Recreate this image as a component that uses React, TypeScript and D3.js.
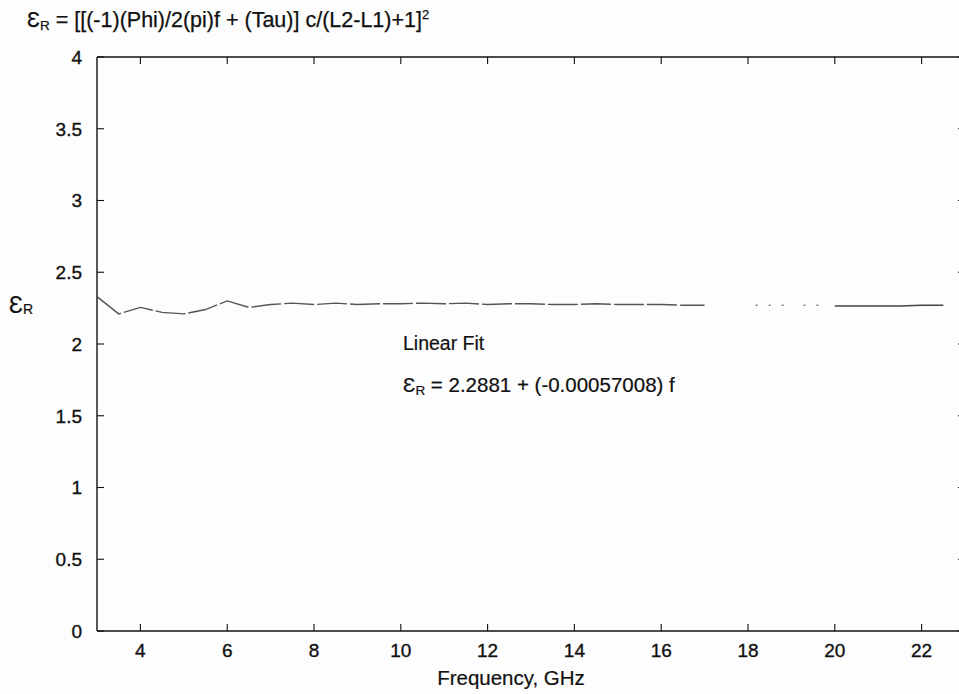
import React from "react";
import * as d3 from "d3";

const freqMain = [3, 3.5, 4, 4.5, 5, 5.5, 6, 6.5, 7, 7.5, 8, 8.5, 9, 9.5, 10, 10.5, 11, 11.5, 12, 12.5, 13, 13.5, 14, 14.5, 15, 15.5, 16, 16.5, 17];
const epsMain = [2.33, 2.21, 2.255, 2.22, 2.21, 2.24, 2.3, 2.255, 2.275, 2.285, 2.275, 2.285, 2.275, 2.28, 2.28, 2.285, 2.28, 2.285, 2.275, 2.28, 2.28, 2.275, 2.275, 2.28, 2.275, 2.275, 2.275, 2.27, 2.27];
const freqDots = [18.2, 18.5, 18.8, 19.3, 19.6];
const epsDots = [2.27, 2.27, 2.27, 2.27, 2.27];
const freqTail = [20, 20.5, 21, 21.5, 22, 22.5];
const epsTail = [2.265, 2.265, 2.265, 2.265, 2.27, 2.27];

const xTicks = [4, 6, 8, 10, 12, 14, 16, 18, 20, 22];
const yTicks = [0, 0.5, 1, 1.5, 2, 2.5, 3, 3.5, 4];

const titleText = " = [[(-1)(Phi)/2(pi)f + (Tau)] c/(L2-L1)+1]";
const xLabel = "Frequency, GHz";
const fitTitle = "Linear Fit";
const fitFormula = " = 2.2881 + (-0.00057008) f";

export default function App() {
  const W = 959, H = 694;
  const x = d3.scaleLinear().domain([3, 23]).range([97, 965]);
  const y = d3.scaleLinear().domain([0, 4]).range([631, 57]);
  const line = d3.line<[number, number]>().x(d => x(d[0])).y(d => y(d[1]));
  const mainPts = freqMain.map((f, i) => [f, epsMain[i]] as [number, number]);
  const tailPts = freqTail.map((f, i) => [f, epsTail[i]] as [number, number]);
  const font = "Arial, 'Liberation Sans', Helvetica, sans-serif";
  const [x0, x1] = x.range();
  const [yb, yt] = y.range();
  const ink = "#111";
  return (
    <svg width={W} height={H} style={{ position: "absolute", left: 0, top: 0, background: "#fff" }} fontFamily={font}>
      <rect x={0} y={0} width={W} height={H} fill="#fdfdfd" />
      {/* title */}
      <text x={27} y={27} fontSize={21.5} fill={ink} stroke={ink} strokeWidth={0.25}>
        <tspan>Ɛ</tspan>
        <tspan fontSize={13.5} dy={3}>R</tspan>
        <tspan dy={-3}>{titleText}</tspan>
        <tspan fontSize={13} dy={-8}>2</tspan>
      </text>
      {/* frame */}
      <line x1={x0} x2={x1} y1={yb} y2={yb} stroke={ink} strokeWidth={1.5} />
      <line x1={x0} x2={x1} y1={yt} y2={yt} stroke={ink} strokeWidth={1.4} />
      <line x1={x0} x2={x0} y1={yt} y2={yb} stroke={ink} strokeWidth={1.4} />
      <line x1={x1} x2={x1} y1={yt} y2={yb} stroke={ink} strokeWidth={1.4} />
      {xTicks.map(t => (
        <g key={"x" + t}>
          <line x1={x(t)} x2={x(t)} y1={yb} y2={yb - 7} stroke={ink} strokeWidth={1.1} />
          <line x1={x(t)} x2={x(t)} y1={yt} y2={yt + 7} stroke={ink} strokeWidth={1.1} />
          <text x={x(t)} y={657} fontSize={19} textAnchor="middle" fill={ink} stroke={ink} strokeWidth={0.35}>{t}</text>
        </g>
      ))}
      {yTicks.map(t => (
        <g key={"y" + t}>
          <line x1={x0} x2={x0 + 7} y1={y(t)} y2={y(t)} stroke={ink} strokeWidth={1.1} />
          <line x1={x1} x2={x1 - 7} y1={y(t)} y2={y(t)} stroke={ink} strokeWidth={1.1} />
          <text x={82} y={y(t)} dy="0.36em" fontSize={19} textAnchor="end" fill={ink} stroke={ink} strokeWidth={0.35}>{t}</text>
        </g>
      ))}
      {/* axis labels */}
      <text x={511} y={685} fontSize={20.5} textAnchor="middle" fill={ink} stroke={ink} strokeWidth={0.2}>{xLabel}</text>
      <text x={9} y={313} fontSize={23} fill={ink} stroke={ink} strokeWidth={0.2}>
        <tspan>Ɛ</tspan>
        <tspan fontSize={14} dy={1}>R</tspan>
      </text>
      {/* data */}
      <path d={line(mainPts) || ""} fill="none" stroke="#555" strokeWidth={1.4} strokeDasharray="30 3" />
      <path d={line(tailPts) || ""} fill="none" stroke="#444" strokeWidth={1.5} />
      {freqDots.map((f, i) => (
        <rect key={"d" + i} x={x(f) - 1} y={y(epsDots[i]) - 0.7} width={2} height={1.4} fill="#777" />
      ))}
      {/* fit annotation */}
      <text x={403} y={350} fontSize={19.5} fill={ink} stroke={ink} strokeWidth={0.2}>{fitTitle}</text>
      <text x={403} y={392} fontSize={20.5} fill={ink} stroke={ink} strokeWidth={0.2}>
        <tspan>Ɛ</tspan>
        <tspan fontSize={13.5} dy={3}>R</tspan>
        <tspan dy={-3}>{fitFormula}</tspan>
      </text>
    </svg>
  );
}
